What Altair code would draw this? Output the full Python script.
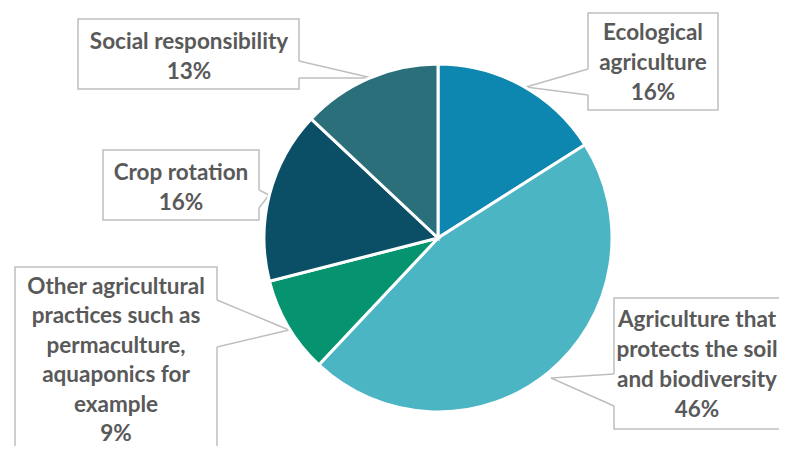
import altair as alt
import pandas as pd

# ---- data ----
categories = ["Ecological agriculture", "Agriculture that protects the soil and biodiversity",
              "Other agricultural practices such as permaculture, aquaponics for example",
              "Crop rotation", "Social responsibility"]
values = [16, 46, 9, 16, 13]
colors = ["#0D86B0", "#4BB5C4", "#05946F", "#0A4F66", "#2A6F79"]
label_lines = [
    ["Ecological", "agriculture", "16%"],
    ["Agriculture that", "protects the soil", "and biodiversity", "46%"],
    ["Other agricultural", "practices such as", "permaculture,", "aquaponics for", "example", "9%"],
    ["Crop rotation", "16%"],
    ["Social responsibility", "13%"],
]

# ---- layout (page pixel coordinates) ----
box_x1 = [588, 614, 15, 103, 78]
box_x2 = [718, 800, 217, 259, 299]
box_y1 = [13, 298, 267, 150, 19]
box_y2 = [110, 429, 480, 220, 89]
edge_x = [588, 614, 217, 259, 299]
base1_y = [69, 374, 300, 190, 61]
base2_y = [95, 406, 347, 208, 78]
tip_x = [526, 551, 289, 269, 372]
tip_y = [87, 378, 330, 195, 78]
text_x = [653, 697, 116, 181, 189]
text_y0 = [40, 327, 294, 180, 49]
line_h = [30, 30, 29.4, 30, 30]

W, H = 771, 438
xs = alt.Scale(domain=[8, 8 + W], range=[0, W])
ys = alt.Scale(domain=[8, 8 + H], range=[0, H])

pie_df = pd.DataFrame({"cat": categories, "val": values, "idx": list(range(len(values)))})
pie = alt.Chart(pie_df).mark_arc(outerRadius=174, stroke="white", strokeWidth=3).encode(
    theta=alt.Theta("val:Q", stack=True),
    order=alt.Order("idx:Q"),
    color=alt.Color("cat:N", scale=alt.Scale(domain=categories, range=colors), legend=None),
    x=alt.value(438 - 8),
    y=alt.value(238 - 8),
)

box_df = pd.DataFrame({"x1": box_x1, "x2": box_x2, "y1": box_y1, "y2": box_y2})
boxes = alt.Chart(box_df).mark_rect(fill="white", stroke="#BFBFBF", strokeWidth=1.5).encode(
    x=alt.X("x1:Q", scale=xs, axis=None), x2="x2:Q",
    y=alt.Y("y1:Q", scale=ys, axis=None), y2="y2:Q",
)

gap_df = pd.DataFrame({"x": edge_x, "y1": base1_y, "y2": base2_y})
gaps = alt.Chart(gap_df).mark_rule(color="white", strokeWidth=3).encode(
    x=alt.X("x:Q", scale=xs, axis=None),
    y=alt.Y("y1:Q", scale=ys, axis=None), y2="y2:Q",
)

lead_rows = []
for i in range(len(categories)):
    lead_rows.append({"x1": edge_x[i], "y1": base1_y[i], "x2": tip_x[i], "y2": tip_y[i]})
    lead_rows.append({"x1": edge_x[i], "y1": base2_y[i], "x2": tip_x[i], "y2": tip_y[i]})
lead_df = pd.DataFrame(lead_rows)
leads = alt.Chart(lead_df).mark_rule(color="#BFBFBF", strokeWidth=1.5).encode(
    x=alt.X("x1:Q", scale=xs, axis=None), x2="x2:Q",
    y=alt.Y("y1:Q", scale=ys, axis=None), y2="y2:Q",
)

text_rows = []
for i, lines in enumerate(label_lines):
    for j, t in enumerate(lines):
        text_rows.append({"t": t, "x": text_x[i], "y": text_y0[i] + j * line_h[i]})
text_df = pd.DataFrame(text_rows)
texts = alt.Chart(text_df).mark_text(
    font="Lato", fontWeight="bold", fontSize=22.5, color="#595959",
    align="center", baseline="alphabetic",
).encode(
    x=alt.X("x:Q", scale=xs, axis=None),
    y=alt.Y("y:Q", scale=ys, axis=None),
    text="t:N",
)

chart = alt.layer(boxes, gaps, leads, pie, texts).properties(
    width=W, height=H, padding=0,
    autosize=alt.AutoSizeParams(type="none"),
).configure_view(stroke=None, clip=True)

chart.save("out.html", embed_options={"renderer": "svg", "actions": False})
